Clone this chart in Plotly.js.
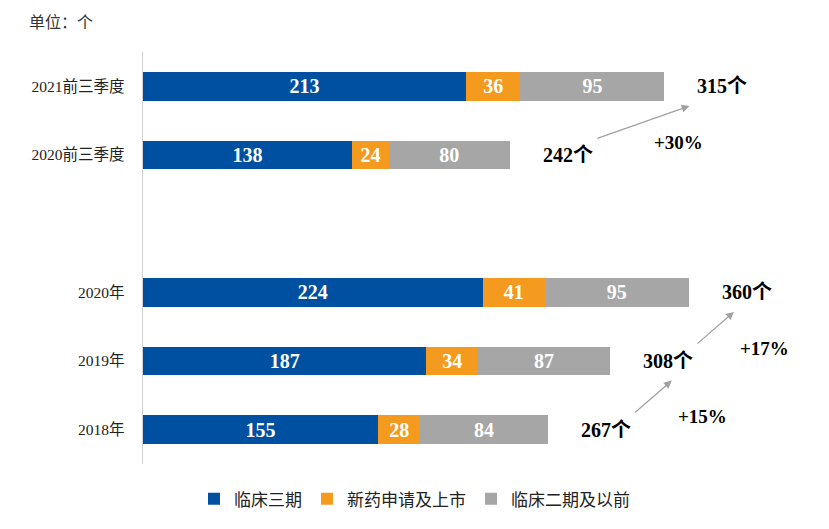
<!DOCTYPE html>
<html>
<head>
<meta charset="utf-8">
<script src="https://cdn.plot.ly/plotly-3.0.1.min.js"></script>
<style>html,body{margin:0;padding:0;background:#fff;}#chart{width:829px;height:529px;}</style>
</head>
<body>
<div id="chart"></div>
<script>
// ---- data (bottom to top); ' ' is an empty spacer row ----
const categories = ['2018年', '2019年', '2020年', ' ', '2020前三季度', '2021前三季度'];
const phase3 = [155, 187, 224, null, 138, 213];      // 临床三期
const nda = [28, 34, 41, null, 24, 36];              // 新药申请及上市
const phase2 = [84, 87, 95, null, 80, 95];           // 临床二期及以前
const totals = [267, 308, 360, null, 242, 315];      // 合计标签
const growthFrom = [0, 1, 4];
const growthTo = [1, 2, 5];
const growthText = ['+15%', '+17%', '+30%'];
const seriesNames = ['临床三期', '新药申请及上市', '临床二期及以前'];

// ---- layout geometry ----
const W = 829, H = 529;
const M = {l: 143, r: 29, t: 52, b: 57};
const plotW = W - M.l - M.r, plotH = H - M.t - M.b;
const xMax = 433.4;
const ppu = plotW / xMax;
const slot = plotH / categories.length;
const serif = '"Liberation Serif", "Times New Roman", "Noto Sans CJK SC", serif';

const colors = ['#0050A2', '#F39A1F', '#A6A6A6'];
const series = [phase3, nda, phase2];

const traces = series.map((vals, k) => ({
  type: 'bar', orientation: 'h',
  y: categories, x: vals, name: seriesNames[k],
  marker: {color: colors[k]},
  text: vals.map(v => v == null ? '' : String(v)),
  textposition: 'inside', insidetextanchor: 'middle',
  textfont: {family: serif, size: 20, color: '#FFFFFF', weight: 'bold'},
  hoverinfo: 'none', cliponaxis: false
}));

// helpers pixel <-> data
const sumAt = i => phase3[i] + nda[i] + phase2[i];
const barEndPx = i => M.l + sumAt(i) * ppu;
const centerPx = i => M.t + (categories.length - 1 - i) * slot + slot / 2;
const pxToX = px => (px - M.l) / ppu;
const pxToY = py => (categories.length - 1) - (py - M.t - slot / 2) / slot;
const labelShift = 31;

const annotations = [];
// unit note
annotations.push({
  xref: 'paper', yref: 'paper', x: (27 - M.l) / plotW, y: 1 + (M.t - 20) / plotH,
  xanchor: 'left', yanchor: 'middle', showarrow: false, text: '单位：个',
  font: {family: '"Noto Sans CJK SC", sans-serif', size: 16, color: '#333333'}
});
// totals
totals.forEach((t, i) => {
  if (t == null) return;
  annotations.push({
    x: sumAt(i), y: i, xref: 'x', yref: 'y', xanchor: 'left', yanchor: 'middle',
    xshift: labelShift, showarrow: false, text: t + '个',
    font: {family: serif, size: 20, color: '#000000', weight: 'bold'}
  });
});
// growth arrows + labels
growthFrom.forEach((lo, j) => {
  const hi = growthTo[j];
  const tailX = barEndPx(lo) + labelShift + 55, tailY = centerPx(lo) - 17;
  const headX = Math.max(barEndPx(hi) + labelShift - 6, tailX + 38), headY = centerPx(hi) + 20;
  annotations.push({
    x: pxToX(headX), y: pxToY(headY), xref: 'x', yref: 'y',
    ax: tailX - headX, ay: tailY - headY, axref: 'pixel', ayref: 'pixel',
    showarrow: true, arrowhead: 2, arrowsize: 1.3, arrowwidth: 1.2,
    arrowcolor: '#A0A0A0', text: ''
  });
  const lx = tailX + Math.max(42, (headX - tailX) * 0.6);
  annotations.push({
    x: pxToX(lx), y: pxToY(tailY + 4), xref: 'x', yref: 'y',
    xanchor: 'left', yanchor: 'middle', showarrow: false, text: growthText[j],
    font: {family: serif, size: 19, color: '#000000', weight: 'bold'}
  });
});

const layout = {
  width: W, height: H,
  margin: M,
  paper_bgcolor: '#FFFFFF', plot_bgcolor: '#FFFFFF',
  barmode: 'stack', bargap: 0.58,
  showlegend: true,
  legend: {
    orientation: 'h', x: (W / 2 - M.l) / plotW, xanchor: 'center',
    y: -(508 - (H - M.b)) / plotH, yanchor: 'middle',
    font: {family: serif, size: 17, color: '#222222'},
    traceorder: 'normal', itemwidth: 30
  },
  xaxis: {range: [0, xMax], visible: false, fixedrange: true},
  yaxis: {
    type: 'category', categoryorder: 'array', categoryarray: categories,
    showline: true, linecolor: '#D0D0D0', linewidth: 1.5,
    showgrid: false, zeroline: false, ticks: '', ticklabelstandoff: 14,
    tickfont: {family: serif, size: 15.5, color: '#222222'},
    fixedrange: true
  },
  annotations: annotations,
  font: {family: serif}
};

Plotly.newPlot('chart', traces, layout, {displayModeBar: false, staticPlot: true});
</script>
</body>
</html>
